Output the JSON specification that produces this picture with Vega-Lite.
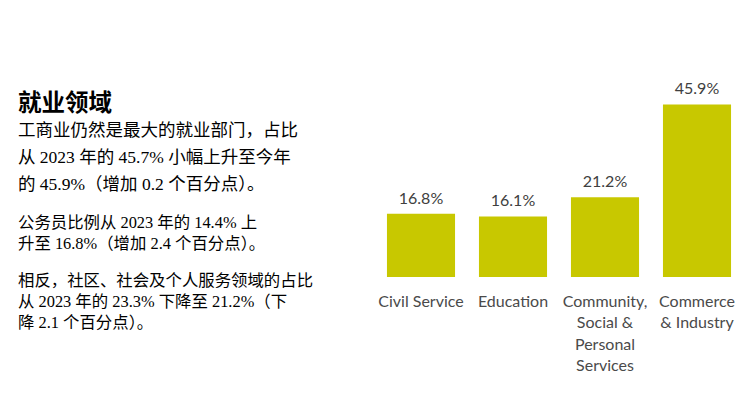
{
  "$schema": "https://vega.github.io/schema/vega-lite/v6.json",
  "padding": {"left": 18, "top": 78, "right": 0, "bottom": 0},
  "background": "white",
  "config": {"view": {"stroke": null}},
  "spacing": 27,
  "hconcat": [
    {
      "spacing": 0,
      "vconcat": [
        {"width": 330, "height": 14, "data": {"values": []}, "mark": "point", "encoding": {}},
        {
          "spacing": 20,
          "vconcat": [
            {
              "width": 330, "height": 1, "data": {"values": []}, "mark": "point", "encoding": {},
              "title": {
                "text": "就业领域",
                "subtitle": ["工商业仍然是最大的就业部门，占比", "从 2023 年的 45.7% 小幅上升至今年", "的 45.9%（增加 0.2 个百分点）。"],
                "anchor": "start", "offset": 0,
                "font": "Liberation Serif, Noto Sans CJK SC", "fontSize": 23.5, "fontWeight": "bold", "color": "#000000",
                "subtitleFont": "Liberation Serif, Noto Sans CJK SC", "subtitleFontSize": 17.5, "subtitleColor": "#000000",
                "subtitleLineHeight": 27, "subtitlePadding": 6
              }
            },
            {
              "spacing": 19,
              "vconcat": [
                {
                  "width": 330, "height": 1, "data": {"values": []}, "mark": "point", "encoding": {},
                  "title": {
                    "text": ["公务员比例从 2023 年的 14.4% 上", "升至 16.8%（增加 2.4 个百分点）。"],
                    "anchor": "start", "offset": 0,
                    "font": "Liberation Serif, Noto Sans CJK SC", "fontSize": 16.4, "fontWeight": "normal", "color": "#000000",
                    "lineHeight": 21
                  }
                },
                {
                  "width": 330, "height": 1, "data": {"values": []}, "mark": "point", "encoding": {},
                  "title": {
                    "text": ["相反，社区、社会及个人服务领域的占比", "从 2023 年的 23.3% 下降至 21.2%（下", "降 2.1 个百分点）。"],
                    "anchor": "start", "offset": 0,
                    "font": "Liberation Serif, Noto Sans CJK SC", "fontSize": 16.4, "fontWeight": "normal", "color": "#000000",
                    "lineHeight": 21
                  }
                }
              ]
            }
          ]
        }
      ]
    },
    {
      "width": 368,
      "height": 199,
      "data": {"values": [
        {"sector": "Civil Service", "share": 0.168},
        {"sector": "Education", "share": 0.161},
        {"sector": "Community, Social & Personal Services", "share": 0.212},
        {"sector": "Commerce & Industry", "share": 0.459}
      ]},
      "encoding": {
        "x": {
          "field": "sector", "type": "nominal", "sort": null,
          "scale": {"paddingInner": 0.26, "paddingOuter": 0.13},
          "axis": {
            "title": null, "domain": false, "ticks": false, "labelAngle": 0,
            "labelFont": "Lato", "labelFontSize": 16, "labelColor": "#4a4a4a",
            "labelPadding": 16, "labelLineHeight": 21.5, "labelLimit": 0,
            "labelOverlap": false, "labelBound": false,
            "labelExpr": "datum.value == 'Community, Social & Personal Services' ? ['Community,', 'Social &', 'Personal', 'Services'] : datum.value == 'Commerce & Industry' ? ['Commerce', '& Industry'] : datum.label"
          }
        },
        "y": {"field": "share", "type": "quantitative", "scale": {"domain": [0, 0.5293], "nice": false}, "axis": null}
      },
      "layer": [
        {"mark": {"type": "bar", "color": "#c8c800"}},
        {
          "mark": {"type": "text", "baseline": "bottom", "dy": -7, "font": "Lato", "fontSize": 16, "color": "#404040"},
          "encoding": {"text": {"field": "share", "type": "quantitative", "format": ".1%"}}
        }
      ]
    }
  ]
}
